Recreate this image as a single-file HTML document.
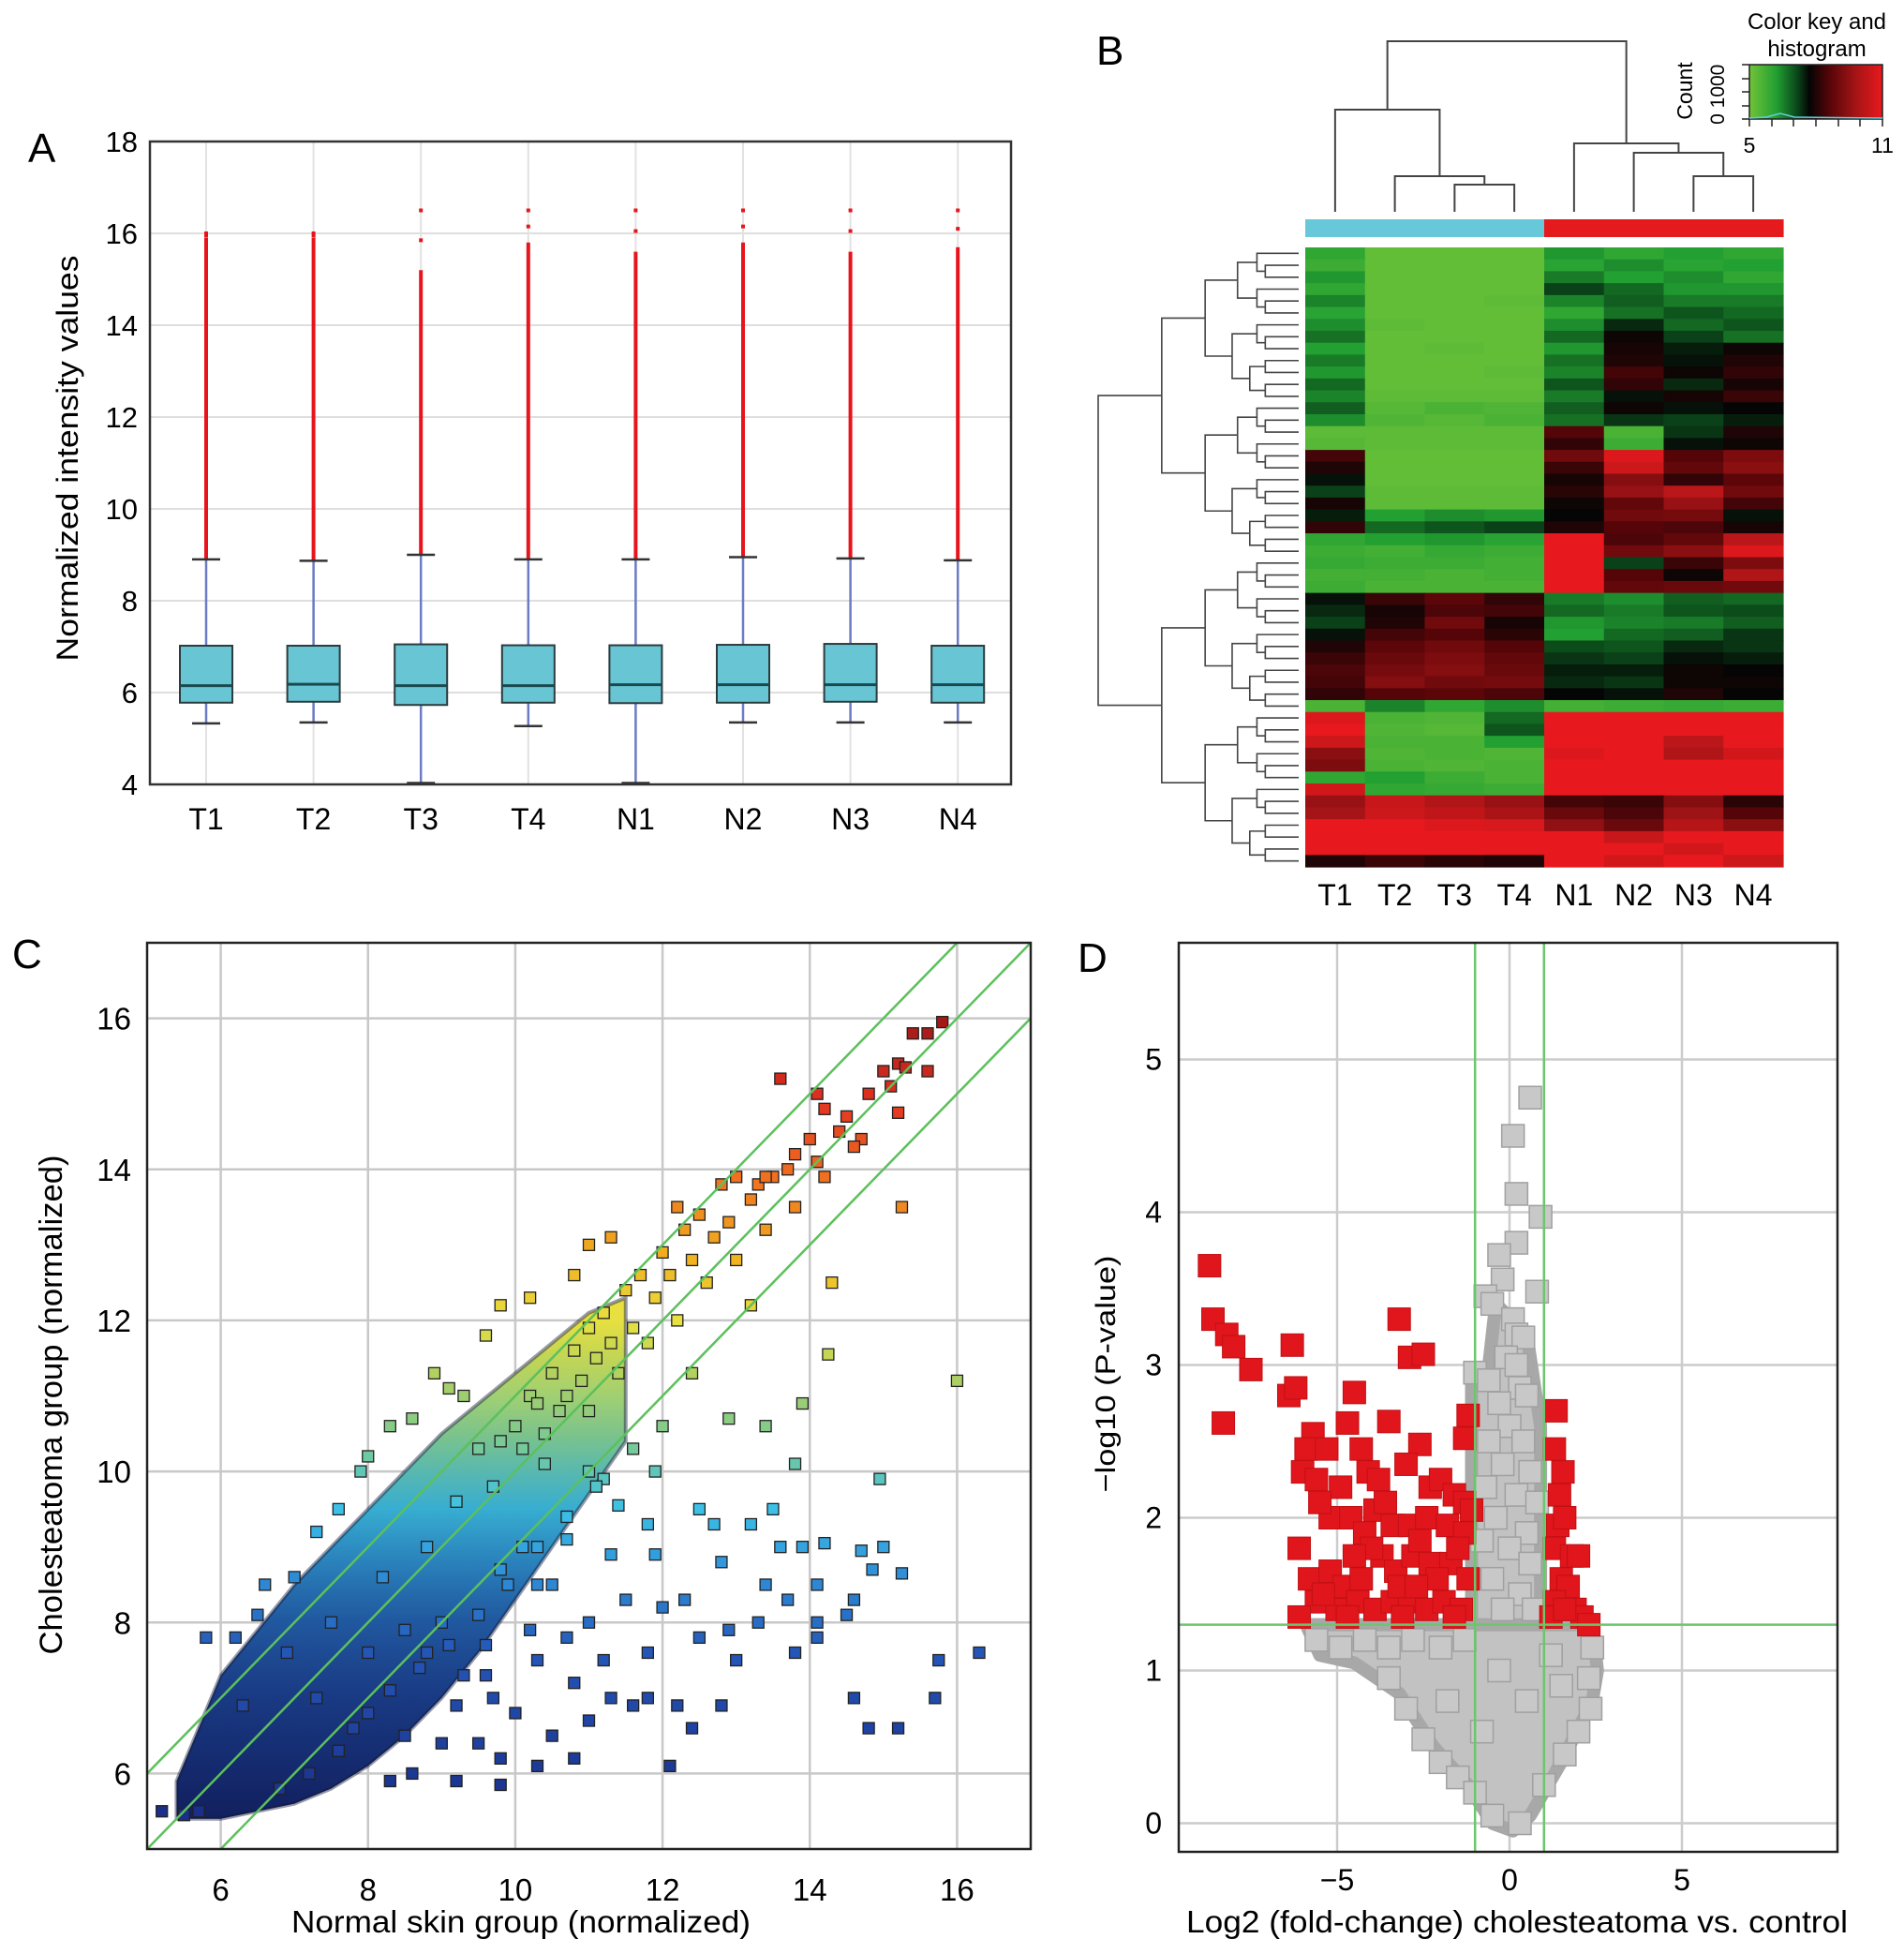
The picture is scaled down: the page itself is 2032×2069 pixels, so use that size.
<!DOCTYPE html>
<html><head><meta charset="utf-8"><style>
html,body{margin:0;padding:0;background:#fff;}
svg{display:block;font-family:"Liberation Sans",Arial,sans-serif;}
</style></head><body>
<svg id="fig" width="2032" height="2069" viewBox="0 0 2032 2069" xmlns="http://www.w3.org/2000/svg">
<rect x="0" y="0" width="2032" height="2069" fill="#fff"/>
<text x="30" y="173" font-size="44">A</text>
<text x="1170" y="69" font-size="44">B</text>
<text x="13" y="1033" font-size="44">C</text>
<text x="1150" y="1037" font-size="44">D</text>
<text transform="translate(83,489) rotate(-90)" text-anchor="middle" font-size="32" textLength="433" lengthAdjust="spacingAndGlyphs">Normalized intensity values</text>
<text transform="translate(66,1499) rotate(-90)" text-anchor="middle" font-size="34" textLength="533" lengthAdjust="spacingAndGlyphs">Cholesteatoma group (normalized)</text>
<text x="556" y="2062" text-anchor="middle" font-size="33" textLength="490" lengthAdjust="spacingAndGlyphs">Normal skin group (normalized)</text>
<text transform="translate(1190,1466) rotate(-90)" text-anchor="middle" font-size="30" textLength="253" lengthAdjust="spacingAndGlyphs">−log10 (P-value)</text>
<text x="1619" y="2062" text-anchor="middle" font-size="33" textLength="706" lengthAdjust="spacingAndGlyphs">Log2 (fold-change) cholesteatoma vs. control</text>
<text x="1939" y="31" text-anchor="middle" font-size="24">Color key and</text>
<text x="1939" y="60" text-anchor="middle" font-size="24">histogram</text>
<text transform="translate(1806,97) rotate(-90)" text-anchor="middle" font-size="23">Count</text>
<text transform="translate(1840,127) rotate(-90)" text-anchor="middle" font-size="21">0</text>
<text transform="translate(1840,92) rotate(-90)" text-anchor="middle" font-size="21">1000</text>
<text x="1867" y="163" text-anchor="middle" font-size="23">5</text>
<text x="2009" y="163" text-anchor="middle" font-size="23">11</text>
</svg>
<script>
const NS='http://www.w3.org/2000/svg';
const svg=document.getElementById('fig');
function mk(tag,attrs,parent){const e=document.createElementNS(NS,tag);for(const k in attrs)e.setAttribute(k,attrs[k]);(parent||svg).appendChild(e);return e;}
function lerpColor(stops,t){t=Math.max(0,Math.min(1,t));for(let i=1;i<stops.length;i++){if(t<=stops[i][0]){const a=stops[i-1],b=stops[i];const f=(t-a[0])/(b[0]-a[0]||1);const c=[0,1,2].map(k=>Math.round(a[1][k]+(b[1][k]-a[1][k])*f));return 'rgb('+c.join(',')+')';}}const l=stops[stops.length-1][1];return 'rgb('+l.join(',')+')';}
const defs=mk('defs',{});

/* ================= Panel A: boxplots ================= */
const catsA=['T1','T2','T3','T4','N1','N2','N3','N4'];
const q1A=[5.78,5.80,5.73,5.78,5.77,5.78,5.80,5.78];
const medA=[6.15,6.18,6.15,6.15,6.17,6.17,6.17,6.17];
const q3A=[7.02,7.02,7.05,7.03,7.03,7.04,7.06,7.02];
const loA=[5.33,5.35,4.03,5.27,4.03,5.35,5.35,5.35];
const hiA=[8.90,8.87,9.00,8.90,8.90,8.95,8.92,8.88];
const denseTopA=[15.9,15.9,15.2,15.8,15.6,15.8,15.6,15.7];
const maxA=[16.0,16.0,16.5,16.5,16.5,16.5,16.5,16.5];
const yTicksA=[4,6,8,10,12,14,16,18];
const AL=160,AR=1079,AT=151,AB=837;
const xA=i=>220+i*114.6;
const yA=v=>AB-(v-4)*(AB-AT)/14;
const gA=mk('g',{});


yTicksA.forEach(t=>{
 const l=mk('line',{x1:AL,x2:AR,y1:yA(t),y2:yA(t),stroke:'#dedede','stroke-width':2},gA);
 
 
 const tx=mk('text',{x:147,y:yA(t)+11,'text-anchor':'end','font-size':31},gA);
 tx.textContent=t;
 
 
});
catsA.forEach((c,i)=>{
 const l=mk('line',{x1:xA(i),x2:xA(i),y1:AT,y2:AB,stroke:'#e2e2e2','stroke-width':2},gA);
 
 
});
catsA.forEach((c,i)=>{
 const x=xA(i);
 const g=mk('g',{},gA);
 
 
 mk('line',{x1:x,x2:x,y1:yA(hiA[i]),y2:yA(denseTopA[i]),stroke:'#e8141c','stroke-width':4},g);
 [maxA[i],(maxA[i]+denseTopA[i])/2].forEach(v=>{mk('rect',{x:x-2,y:yA(v)-2,width:4,height:4,fill:'#e8141c'},g);});
 mk('line',{x1:x,x2:x,y1:yA(hiA[i]),y2:yA(q3A[i]),stroke:'#6b7cc4','stroke-width':2.5},g);
 mk('line',{x1:x,x2:x,y1:yA(q1A[i]),y2:yA(loA[i]),stroke:'#6b7cc4','stroke-width':2.5},g);
 mk('line',{x1:x-15,x2:x+15,y1:yA(hiA[i]),y2:yA(hiA[i]),stroke:'#333','stroke-width':2.5},g);
 mk('line',{x1:x-15,x2:x+15,y1:yA(loA[i]),y2:yA(loA[i]),stroke:'#333','stroke-width':2.5},g);
 mk('rect',{x:x-28,y:yA(q3A[i]),width:56,height:yA(q1A[i])-yA(q3A[i]),fill:'#68c6d4',stroke:'#2b3b3e','stroke-width':2},g);
 mk('line',{x1:x-28,x2:x+28,y1:yA(medA[i]),y2:yA(medA[i]),stroke:'#1a4a50','stroke-width':3},g);
 const tx=mk('text',{x:x,y:885,'text-anchor':'middle','font-size':32},gA);
 tx.textContent=c;
 
 
});
const frA=mk('rect',{x:AL,y:AT,width:AR-AL,height:AB-AT,fill:'none',stroke:'#333','stroke-width':2.5},gA);



/* ================= Panel B: heatmap ================= */
const catsB=['T1','T2','T3','T4','N1','N2','N3','N4'];
const heatRows=[
"6.0 5.2 5.2 5.2 6.3 6.0 6.2 6.0","5.8 5.2 5.2 5.2 6.1 6.4 6.1 6.2","6.3 5.2 5.2 5.2 6.6 6.2 6.4 6.0",
"6.0 5.2 5.2 5.2 7.2 6.8 6.3 6.3","6.5 5.2 5.2 5.3 6.5 6.9 6.6 6.6","6.1 5.2 5.2 5.2 6.0 6.7 7.0 6.8",
"6.4 5.3 5.2 5.2 6.4 7.4 6.8 7.0","6.7 5.2 5.2 5.2 6.8 7.8 7.2 6.7","6.2 5.2 5.3 5.2 6.3 7.9 7.5 7.8",
"6.6 5.2 5.2 5.2 6.7 8.0 7.6 8.0","6.3 5.2 5.2 5.3 6.5 8.4 7.8 8.2","6.8 5.2 5.2 5.2 7.0 8.2 7.4 7.9",
"6.5 5.3 5.3 5.3 6.6 7.6 7.9 8.3","6.9 5.4 5.6 5.5 6.9 7.8 7.6 7.7","6.4 5.5 5.4 5.6 6.7 7.3 7.2 7.5",
"5.3 5.3 5.3 5.3 8.6 5.6 7.3 8.0","5.4 5.3 5.3 5.3 8.2 5.8 7.6 7.8",
"8.4 5.2 5.2 5.2 9.0 10.8 8.6 9.2","8.0 5.2 5.2 5.2 8.3 10.5 8.8 9.4","7.6 5.2 5.2 5.2 7.9 9.3 8.2 8.7",
"7.2 5.3 5.3 5.3 8.1 9.6 10.2 9.0","7.9 5.3 5.3 5.3 7.8 8.8 9.6 8.4","7.5 6.2 6.4 6.3 7.7 9.0 9.1 7.6",
"8.2 6.8 7.0 7.2 8.0 8.6 8.5 7.9",
"6.0 6.2 6.3 6.1 11 8.5 8.8 10.2","5.8 5.7 5.9 5.8 11 9.0 9.4 10.8","5.9 5.8 5.8 5.7 11 7.2 8.3 9.2",
"5.7 5.7 5.6 5.7 11 8.6 7.8 10.0","5.8 5.6 5.6 5.6 11 8.8 8.9 9.0",
"7.6 8.3 8.7 8.2 6.6 6.4 6.9 6.8","7.4 7.9 8.5 8.4 6.8 6.6 7.0 7.1","7.2 8.0 9.0 7.9 6.3 6.5 6.6 6.9",
"7.6 8.4 8.6 8.1 6.2 6.8 6.9 7.3","8.0 8.7 9.0 8.6 7.1 7.0 7.4 7.3","8.3 8.9 9.2 8.8 7.3 7.2 7.6 7.5",
"8.5 9.1 9.3 8.9 7.5 7.5 7.8 7.7","8.4 9.3 9.0 9.1 7.4 7.3 7.8 7.8","8.2 8.6 8.7 8.5 7.7 7.6 8.0 7.7",
"5.6 6.5 6.0 6.4 5.7 5.8 5.9 5.8",
"10.8 5.6 5.5 6.8 11 11 11 11","11 5.5 5.4 7.0 11 11 11 11","10.5 5.6 5.6 6.2 11 11 10.2 11",
"9.4 5.5 5.6 5.5 10.8 11 10.0 10.6","9.2 5.6 5.5 5.6 11 11 11 11","6.0 6.2 5.8 5.6 11 11 11 11",
"10.6 6.0 5.9 5.8 11 11 11 11",
"9.6 10.4 10.0 9.6 8.4 8.3 9.3 8.1","9.8 10.5 10.3 9.9 8.9 8.5 9.7 8.6","11 11 10.8 10.7 9.5 8.9 10.1 9.4",
"11 11 11 11 11 10.4 11 11","11 11 11 11 11 11 10.6 11","8.0 8.3 8.1 8.0 11 10.6 11 10.5"
];
const colGroups=['tumor','tumor','tumor','tumor','normal','normal','normal','normal'];
const heatStops=[[0,[112,196,56]],[0.2,[35,160,50]],[0.36,[10,70,25]],[0.45,[5,5,5]],[0.6,[85,5,8]],[0.8,[165,20,22]],[1,[232,25,30]]];
const heatColor=v=>lerpColor(heatStops,(v-5)/6);
const HL=1393,HR=1903,HT=264,HB=925;
const nR=heatRows.length,nC=catsB.length;
const cw=(HR-HL)/nC,rh=(HB-HT)/nR;
const colX=j=>HL+cw*(j+0.5);
const gB=mk('g',{});


heatRows.forEach((row,i)=>{
 row.split(' ').map(Number).forEach((v,j)=>{
  const r=mk('rect',{x:HL+cw*j,y:HT+rh*i,width:cw+0.6,height:rh+0.6,fill:heatColor(v)},gB);
  
  
 });
});
colGroups.forEach((g,j)=>{
 const r=mk('rect',{x:HL+cw*j,y:234,width:cw+0.6,height:19,fill:g==='tumor'?'#66c8d8':'#e41a1c'},gB);
 
 
});
catsB.forEach((c,j)=>{
 const t=mk('text',{x:colX(j),y:966,'text-anchor':'middle','font-size':32},gB);
 t.textContent=c;
 
 
});
const colDend=[[2,3,197],[1,'a',188],[0,'b',117],[6,7,188],[5,'d',163],[4,'e',153],['c','f',44]];
const gCD=mk('g',{stroke:'#444','stroke-width':2,fill:'none'});


(function(){const node={};const ids='abcdefg';const pos=k=>typeof k==='number'?[colX(k),226]:node[k];
 colDend.forEach((m,i)=>{const A=pos(m[0]),B=pos(m[1]);mk('path',{d:`M${A[0]},${A[1]}V${m[2]}H${B[0]}V${B[1]}`},gCD);node[ids[i]]=[(A[0]+B[0])/2,m[2]];});})();
const gRD=mk('g',{stroke:'#444','stroke-width':1.6,fill:'none'});


function rd(lo,hi){if(hi-lo===1){return [1386,HT+rh*(lo+0.5)];}
 const mid=Math.floor((lo+hi)/2);const a=rd(lo,mid),b=rd(mid,hi);
 const x=1386-214*Math.pow((hi-lo)/nR,0.55);
 mk('path',{d:`M${a[0]},${a[1]}H${x}V${b[1]}H${b[0]}`},gRD);return [x,(a[1]+b[1])/2];}
rd(0,nR);
const gK=mk('g',{});


const lg=mk('linearGradient',{id:'keygrad',x1:0,x2:1,y1:0,y2:0},defs);
heatStops.forEach(s=>mk('stop',{offset:s[0],'stop-color':'rgb('+s[1].join(',')+')'},lg));
mk('rect',{x:1867,y:69,width:142,height:58,fill:'url(#keygrad)',stroke:'#222','stroke-width':1.5},gK);
[69,84,98,113,127].forEach(y=>mk('line',{x1:1859,x2:1867,y1:y,y2:y,stroke:'#222','stroke-width':1.5},gK));
[1867,1891,1914,1938,1962,1985,2009].forEach(x=>mk('line',{x1:x,x2:x,y1:127,y2:135,stroke:'#222','stroke-width':1.5},gK));
mk('path',{d:'M1867,126 L1885,125 L1900,121 L1915,125 L2009,126',stroke:'#5fd0e0','stroke-width':1.5,fill:'none'},gK);

/* ================= Panel C: scatter ================= */
const ptsC="5.2,5.5 5.5,5.45 5.7,5.5 10.2,11.0 10.5,11.3 10.8,11.6 11,11.9 11.2,12.1 11.5,12.4 11.7,12.6 12,12.9 12.3,13.2 12.5,13.4 12.8,13.8 13,13.9 13.3,13.8 13.5,13.9 13.8,14.2 14,14.4 14.2,14.8 14.5,14.7 14.8,15.0 15,15.3 15.2,15.4 15.4,15.8 15.6,15.8 15.8,15.95 10.0,10.6 10.3,10.9 10.6,10.8 10.9,11.2 11.1,11.5 11.3,11.7 11.6,11.9 11.9,12.3 12.1,12.6 12.4,12.8 12.7,13.1 12.9,13.3 13.2,13.6 13.4,13.9 13.7,14.0 14.1,14.1 14.4,14.5 14.7,14.4 15.1,15.1 15.3,15.35 15.6,15.3 9.5,10.3 9.8,10.4 10.1,10.3 10.4,10.5 10.7,11.0 11.0,10.8 11.4,11.3 11.8,11.7 12.2,12.0 12.6,12.5 13.0,12.8 13.4,13.2 13.8,13.5 14.2,13.9 14.6,14.3 15.2,14.75 15.25,13.5 14.3,12.5 14.25,11.55 13.2,12.2 9.6,11.8 9.1,11.1 8.6,10.7 8.0,10.2 7.6,9.5 7.3,9.2 9.8,12.2 10.8,12.6 11,13.0 12.2,13.5 13.6,15.2 14.1,15.0 11.3,13.1 10.2,12.3 8.9,11.3 9.3,11.0 8.3,10.6 7.9,10.0 6.6,8.5 6.2,7.8 5.8,7.8 6.5,8.1 7.0,8.6 10.5,8.5 11,8.0 11.5,8.3 12,8.2 12.3,8.3 12.5,7.8 13,7.5 13.3,8.0 13.7,8.3 14.1,8.5 14.5,8.1 14.6,8.3 11.8,7.0 12.2,6.9 12.4,6.6 12.8,6.9 10.3,7.5 10.8,7.2 11.3,7.0 11.6,6.9 9.8,6.2 10.3,6.1 10.8,6.2 12.1,6.1 9.5,6.4 9.0,6.4 8.6,6.0 8.3,5.9 9.2,5.9 9.8,5.85 10,6.8 10.5,6.5 11,6.7 9.7,7.0 9.3,7.3 8.8,7.6 8.5,7.9 9.0,8.0 9.6,7.7 10.2,7.9 10.7,7.8 11.2,7.5 11.8,7.6 12.9,7.9 13.8,7.6 14.1,7.8 15.0,9.0 14.7,8.95 14.85,8.7 15.25,8.65 14.6,7.0 14.8,6.6 15.2,6.6 15.7,7.0 15.75,7.5 16.3,7.6 16.0,11.2 14.95,9.9 13.8,10.1 13.5,9.5 12.5,9.5 11.8,9.3 11.4,9.55 12.7,9.3 13.2,9.3 13.6,9.0 14.2,9.05 12.0,10.6 12.9,10.7 13.4,10.6 13.9,10.9 12.4,11.3 11.9,10.0 11.0,10.0 11.2,9.9 10.7,9.1 10.1,9.0 9.8,8.7 10.3,8.5 11.3,8.9 11.9,8.9 12.8,8.8 13.4,8.5 14.1,8.0 13.9,9.0 8.0,6.8 8.3,7.1 8.7,7.4 9.1,7.7 9.5,8.1 9.9,8.5 10.3,9.0 10.7,9.4 11.1,9.8 11.6,10.3 7.6,6.3 7.2,6.0 6.8,5.8 7.8,6.6 8.5,6.5 9.2,6.9 9.6,7.3 7.5,8.0 8.2,8.6 8.8,9.0 9.2,9.6 9.7,9.8 10.4,10.1 6.9,7.6 6.3,6.9 7.3,7.0 8.0,7.6";
const bandX=[5.4,6,6.5,7,7.5,8,8.5,9,9.5,10,10.5,11,11.5];
const bandLo=[5.4,5.4,5.5,5.6,5.8,6.1,6.5,7.0,7.6,8.3,9.0,9.7,10.4];
const bandHi=[5.9,7.3,7.9,8.5,9.0,9.5,10.0,10.5,10.9,11.3,11.7,12.1,12.3];
const ticksC=[6,8,10,12,14,16];
const diagOffsetsC=[-1,0,1];
const CL=157,CR=1100,CT=1006,CB=1973;
const xC=v=>CL+(v-5)*(CR-CL)/12;
const yC=v=>CB-(v-5)*(CB-CT)/12;
const jetStops=[[0,[26,47,138]],[0.2,[36,86,184]],[0.3,[47,143,216]],[0.38,[60,192,232]],[0.45,[112,200,160]],[0.55,[176,208,96]],[0.62,[232,224,64]],[0.7,[240,176,32]],[0.8,[240,112,32]],[0.9,[224,48,32]],[1,[160,24,24]]];
const jet=v=>lerpColor(jetStops,(v-5.5)/10.5);
const gC=mk('g',{});


const cp=mk('clipPath',{id:'clipC'},defs);mk('rect',{x:CL,y:CT,width:CR-CL,height:CB-CT},cp);
ticksC.forEach(t=>{
 const a=mk('line',{x1:xC(t),x2:xC(t),y1:CT,y2:CB,stroke:'#c8c8c8','stroke-width':2.5},gC);
 
 
 const b=mk('line',{x1:CL,x2:CR,y1:yC(t),y2:yC(t),stroke:'#c8c8c8','stroke-width':2.5},gC);
 
 
 const tx=mk('text',{x:xC(t),y:2028,'text-anchor':'middle','font-size':33},gC);
 tx.textContent=t;
 
 
 const ty=mk('text',{x:140,y:yC(t)+12,'text-anchor':'end','font-size':33},gC);
 ty.textContent=t;
 
 
});
const bg=mk('linearGradient',{id:'bandgrad',gradientUnits:'userSpaceOnUse',x1:0,x2:0,y1:yC(5.5),y2:yC(12)},defs);
[5.5,7,8,8.5,9,9.5,10.5,11.5,12].forEach(v=>mk('stop',{offset:(v-5.5)/6.5,'stop-color':jet(v)},bg));
const sg=mk('linearGradient',{id:'shadegrad',gradientUnits:'userSpaceOnUse',x1:0,x2:0,y1:yC(5.5),y2:yC(11)},defs);
mk('stop',{offset:0,'stop-color':'#000','stop-opacity':0.3},sg);
mk('stop',{offset:0.5,'stop-color':'#000','stop-opacity':0.18},sg);
mk('stop',{offset:1,'stop-color':'#000','stop-opacity':0},sg);
let bd='M'+bandX.map((x,i)=>xC(x)+','+yC(bandLo[i])).join(' L');
bd+=' L'+bandX.map((x,i)=>xC(x)+','+yC(bandHi[i])).reverse().join(' L')+' Z';
const band=mk('path',{d:bd,fill:'url(#bandgrad)',stroke:'#1a2040','stroke-width':4,'stroke-opacity':0.45,'stroke-linejoin':'round'},gC);


const bandShade=mk('path',{d:bd,fill:'url(#shadegrad)'},gC);


const gpC=mk('g',{'clip-path':'url(#clipC)'},gC);
ptsC.split(' ').forEach(p=>{const [x,y]=p.split(',').map(Number);
 const r=mk('rect',{x:xC(x)-6,y:yC(y)-6,width:12,height:12,fill:jet(y),stroke:'#222','stroke-width':1.3},gpC);
 
 
});
diagOffsetsC.forEach(o=>{
 const l=mk('line',{x1:xC(4),y1:yC(4+o),x2:xC(18),y2:yC(18+o),stroke:'#5cc05c','stroke-width':2.5,'clip-path':'url(#clipC)'},gC);
 
 
});
const frC=mk('rect',{x:CL,y:CT,width:CR-CL,height:CB-CT,fill:'none',stroke:'#222','stroke-width':2.5},gC);



/* ================= Panel D: volcano ================= */
const redD="-8.7,3.65 -8.6,3.3 -8.2,3.2 -8.0,3.12 -7.5,2.97 -6.3,3.13 -6.4,2.8 -6.2,2.85 -8.3,2.62 -4.5,2.82 -3.2,3.3 -2.9,3.05 -2.5,3.07 -4.7,2.62 -3.5,2.63 -2.6,2.48 -4.3,2.45 -1.3,2.52 -1.2,2.67 -5.7,2.55 -5.9,2.45 -5.3,2.45 -6.0,2.3 -5.6,2.25 -4.9,2.2 -4.1,2.3 -3.8,2.25 -3.0,2.35 -2.3,2.2 -2.0,2.25 -1.6,2.15 -1.3,2.1 -5.2,2.0 -4.6,2.0 -4.2,1.9 -3.9,2.05 -3.4,1.95 -2.9,1.95 -2.4,2.0 -1.8,1.95 -1.3,1.9 -1.1,2.05 -6.1,1.8 -5.8,1.6 -5.2,1.65 -4.8,1.55 -4.3,1.6 -3.7,1.75 -3.3,1.65 -2.8,1.75 -2.3,1.7 -1.7,1.7 -1.2,1.6 -5.6,1.45 -5.0,1.4 -4.4,1.45 -3.9,1.4 -3.4,1.45 -2.9,1.45 -2.4,1.4 -1.9,1.45 -1.4,1.4 -6.1,1.35 -4.7,1.35 -3.1,1.35 -1.6,1.35 -4.0,1.8 -2.6,1.85 -5.5,2.1 -3.6,2.1 -2.1,1.6 -4.5,1.75 -3.2,1.55 -1.5,1.8 -5.4,1.5 -2.7,1.55 1.35,2.7 1.3,2.45 1.55,2.3 1.45,2.15 1.4,1.95 1.6,2.0 1.3,1.8 1.8,1.75 2.0,1.75 1.5,1.6 1.7,1.55 1.3,1.45 1.9,1.4 2.1,1.35 2.3,1.3 1.2,1.35 1.6,1.4";
const grayD="0.6,4.75 0.1,4.5 0.2,4.12 0.9,3.97 0.2,3.8 -0.3,3.72 -0.2,3.56 0.8,3.48 -0.7,3.45 -0.5,3.4 0.1,3.3 0.2,3.2 0.4,3.18 -0.1,3.05 0.2,3.0 -1.0,2.95 -0.6,2.9 0.3,2.85 0.5,2.8 -0.3,2.75 0.0,2.6 -0.6,2.5 0.4,2.5 -0.2,2.35 0.6,2.3 -0.7,2.2 0.2,2.15 0.8,2.1 -0.4,2.0 0.5,1.9 -0.8,1.85 0.0,1.8 0.6,1.7 -0.5,1.6 0.3,1.5 -0.2,1.4 0.7,1.4 -5.6,1.2 -4.9,1.15 -4.2,1.2 -3.5,1.15 -2.8,1.2 -2.0,1.15 -1.3,1.2 2.4,1.15 2.3,0.95 2.35,0.75 -3.5,0.95 -3.0,0.75 -2.5,0.55 -2.0,0.4 -1.5,0.3 -1.0,0.2 -0.5,0.05 0.3,0.0 1.0,0.25 1.6,0.45 2.0,0.6 -1.8,0.8 -0.8,0.6 0.5,0.8 1.5,0.9 -0.3,1.0 1.2,1.1";
const grayLowX=[-5.9,2.4,2.55,2.4,1.5,0.6,0.1,-0.5,-1.2,-2.2,-3.2,-4.5,-5.5];
const grayLowY=[1.3,1.3,1.0,0.8,0.4,0.05,-0.05,0.0,0.25,0.5,0.85,1.05,1.1];
const grayUpX=[-1.1,-1.1,-0.6,-0.4,0.5,0.9,0.9];
const grayUpY=[1.3,2.9,3.0,3.4,3.2,2.6,1.3];
const xTicksD=[-5,0,5];
const yTicksD=[0,1,2,3,4,5];
const fcThreshD=[-1,1];
const pThreshD=1.3;
const DL=1258,DR=1961,DT=1006,DB=1976;
const xD=v=>1611+v*36.8;
const yD=v=>1945.5-v*163;
const gD=mk('g',{});


const cpD=mk('clipPath',{id:'clipD'},defs);mk('rect',{x:DL,y:DT,width:DR-DL,height:DB-DT},cpD);
xTicksD.forEach(t=>{
 const a=mk('line',{x1:xD(t),x2:xD(t),y1:DT,y2:DB,stroke:'#cccccc','stroke-width':2.5},gD);
 
 
 const tx=mk('text',{x:xD(t),y:2017,'text-anchor':'middle','font-size':32},gD);
 tx.textContent=t<0?'−'+(-t):t;
 
 
});
yTicksD.forEach(t=>{
 const a=mk('line',{x1:DL,x2:DR,y1:yD(t),y2:yD(t),stroke:'#cccccc','stroke-width':2.5},gD);
 
 
 const ty=mk('text',{x:1240,y:yD(t)+11,'text-anchor':'end','font-size':32},gD);
 ty.textContent=t;
 
 
});
const gpD=mk('g',{'clip-path':'url(#clipD)'},gD);
[[grayLowX,grayLowY,'gray-dense-region-low'],[grayUpX,grayUpY,'gray-dense-region-center']].forEach(([X,Y,n])=>{
 const p=mk('path',{d:'M'+X.map((x,i)=>xD(x)+','+yD(Y[i])).join(' L')+' Z',fill:'#c2c2c2',stroke:'#a8a8a8','stroke-width':14,'stroke-linejoin':'round'},gpD);
 
 
});
grayD.split(' ').forEach(p=>{const [x,y]=p.split(',').map(Number);
 const r=mk('rect',{x:xD(x)-12,y:yD(y)-12,width:24,height:24,fill:'#c8c8c8',stroke:'#a0a0a0','stroke-width':1.5},gpD);
 
 
});
redD.split(' ').forEach(p=>{const [x,y]=p.split(',').map(Number);
 const r=mk('rect',{x:xD(x)-12,y:yD(y)-12,width:24,height:24,fill:'#e0161c',stroke:'#c01014','stroke-width':1},gpD);
 
 
});
fcThreshD.forEach(t=>{
 const l=mk('line',{x1:xD(t),x2:xD(t),y1:DT,y2:DB,stroke:'#6cc66c','stroke-width':2.5},gD);
 
 
});
const pl=mk('line',{x1:DL,x2:DR,y1:yD(pThreshD),y2:yD(pThreshD),stroke:'#6cc66c','stroke-width':2.5},gD);


const frD=mk('rect',{x:DL,y:DT,width:DR-DL,height:DB-DT,fill:'none',stroke:'#222','stroke-width':2.5},gD);


</script>
</body></html>
